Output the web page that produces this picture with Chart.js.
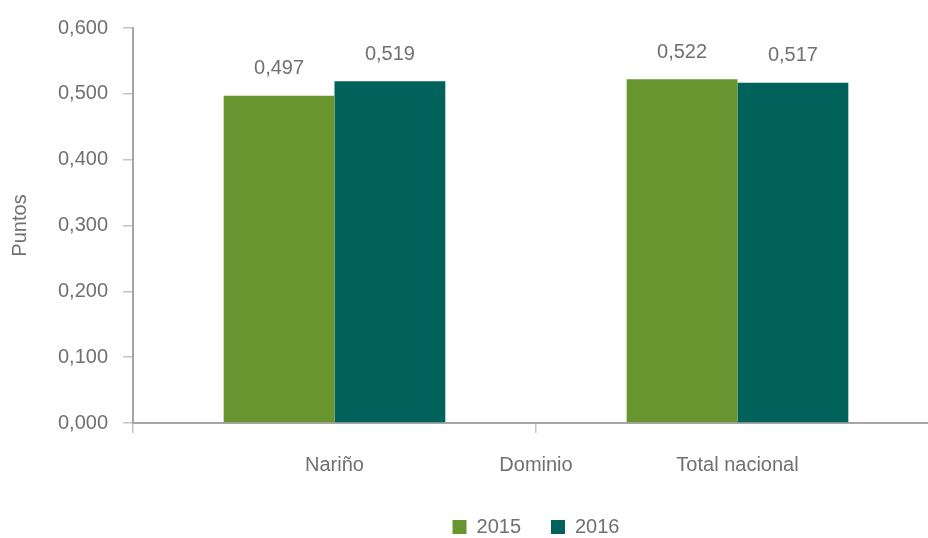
<!DOCTYPE html>
<html>
<head>
<meta charset="utf-8">
<script src="https://cdn.jsdelivr.net/npm/chart.js@4"></script>
<style>
    html, body { margin: 0; padding: 0; background: #fff; overflow: hidden; }
    #wrap { width: 940px; height: 538px; }
</style>
</head>
<body>
<div id="wrap"><canvas id="chart" width="940" height="538"></canvas></div>
<script>
// values
const categories = ['Nariño', 'Total nacional'];
const years = ['2015', '2016'];
const values2015 = [0.497, 0.522];
const values2016 = [0.519, 0.517];
const yTicks = [0, 0.1, 0.2, 0.3, 0.4, 0.5, 0.6];

const FONT = "'Liberation Sans Narrow', 'Arial Narrow', 'Liberation Sans', Arial, sans-serif";
const SIZE = 20;
const GREY = '#707070';

function fmt(v) {
    return v.toFixed(3).replace('.', ',');
}

// value labels above the bars + axis title sitting between the category labels
const labelsPlugin = {
    id: 'labels',
    afterLayout(chart) {
        // centre the legend under the plot area, not the whole canvas
        if (chart.legend) {
            chart.legend.left = chart.chartArea.left;
            chart.legend.right = chart.chartArea.right;
        }
    },
    afterDatasetsDraw(chart) {
        const ctx = chart.ctx;
        ctx.save();
        ctx.font = SIZE + 'px ' + FONT;
        ctx.fillStyle = GREY;
        ctx.textAlign = 'center';
        ctx.textBaseline = 'middle';
        chart.data.datasets.forEach((ds, i) => {
            chart.getDatasetMeta(i).data.forEach((bar, j) => {
                ctx.fillText(fmt(ds.data[j]), bar.x, bar.y - 27);
            });
        });
        // "Dominio" (x axis title) sits on the tick label line
        const area = chart.chartArea;
        ctx.fillText('Dominio', (area.left + area.right) / 2, 465);
        ctx.restore();
    }
};

const data = {
    labels: categories,
    datasets: [
        {
            label: years[0],
            data: values2015,
            backgroundColor: '#699531',
            categoryPercentage: 0.55,
            barPercentage: 1.0
        },
        {
            label: years[1],
            data: values2016,
            backgroundColor: '#00625A',
            categoryPercentage: 0.55,
            barPercentage: 1.0
        }
    ]
};

new Chart(document.getElementById('chart'), {
    type: 'bar',
    data: data,
    options: {
        responsive: false,
        animation: false,
        layout: { padding: { top: 28, left: 0, right: 1, bottom: -9 } },
        scales: {
            x: {
                grid: {
                    offset: true,
                    drawOnChartArea: false,
                    drawTicks: true,
                    tickLength: 10,
                    color: '#c4c4c4',
                    lineWidth: 1.5
                },
                border: { color: '#a6a6a6', width: 2 },
                ticks: {
                    color: GREY,
                    font: { family: FONT, size: SIZE },
                    padding: 20,
                    maxRotation: 0
                },
                afterFit(scale) { scale.height = 64; }
            },
            y: {
                min: 0,
                max: 0.6,
                afterBuildTicks(scale) {
                    scale.ticks = yTicks.map(v => ({ value: v }));
                },
                grid: {
                    drawOnChartArea: false,
                    drawTicks: true,
                    tickLength: 10,
                    color: '#c4c4c4',
                    lineWidth: 1.5
                },
                border: { color: '#a6a6a6', width: 2 },
                ticks: {
                    color: GREY,
                    font: { family: FONT, size: SIZE },
                    padding: 15,
                    callback: v => fmt(v)
                },
                title: {
                    display: true,
                    text: 'Puntos',
                    color: GREY,
                    font: { family: FONT, size: SIZE },
                    padding: { top: 8, bottom: 0 }
                },
                afterFit(scale) { scale.width = 133; }
            }
        },
        plugins: {
            legend: {
                position: 'bottom',
                labels: {
                    color: GREY,
                    font: { family: FONT, size: SIZE },
                    boxWidth: 14,
                    boxHeight: 14,
                    padding: 30
                }
            },
            tooltip: { enabled: false }
        }
    },
    plugins: [labelsPlugin]
});
</script>
</body>
</html>
